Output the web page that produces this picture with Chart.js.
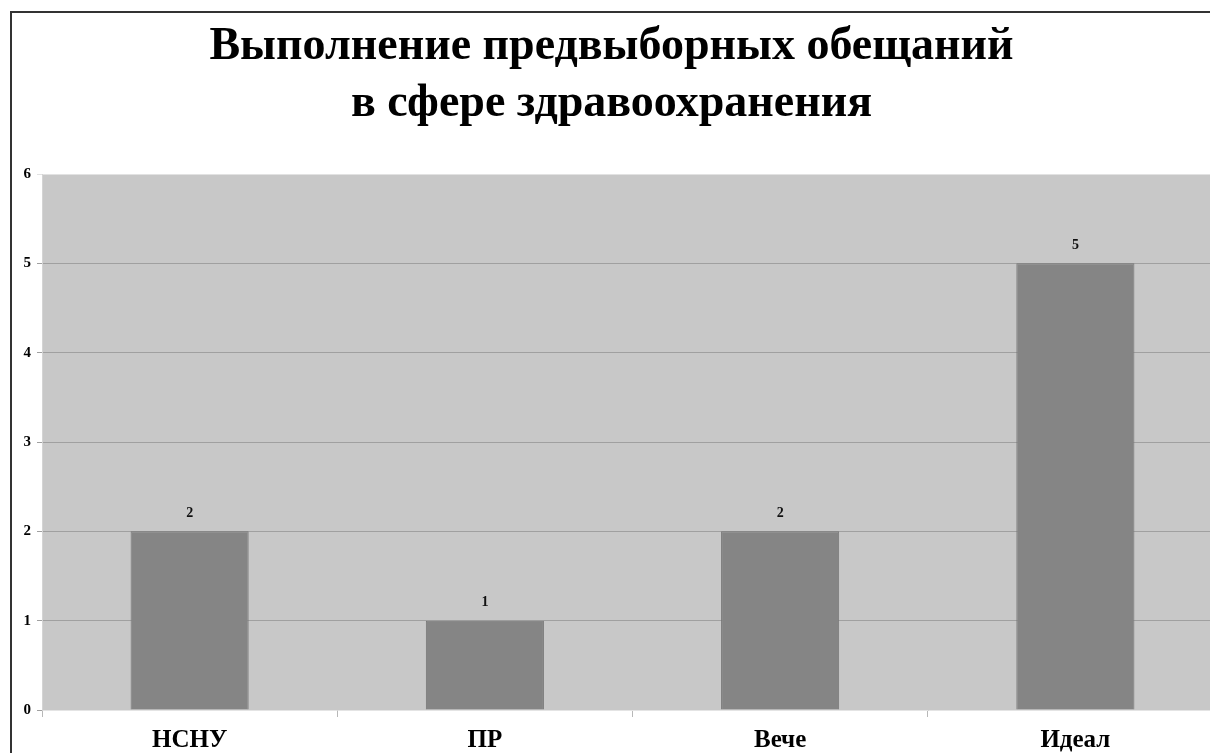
<!DOCTYPE html>
<html>
<head>
<meta charset="utf-8">
<script src="https://cdn.jsdelivr.net/npm/chart.js@4/dist/chart.umd.min.js"></script>
<style>
  body { margin: 0; background: #fff; overflow: hidden; width: 1210px; height: 753px; }
  #frame { position: absolute; left: 10px; top: 11px; width: 1400px; height: 900px;
           border-top: 2px solid #333; border-left: 2px solid #333; }
  #wrap { position: absolute; left: 0; top: 0; width: 1240px; height: 753px; }
</style>
</head>
<body>
<div id="frame"></div>
<div id="wrap"><canvas id="chart"></canvas></div>
<script>
const titleLines = ['Выполнение предвыборных обещаний', 'в сфере здравоохранения'];
const parties = ['НСНУ', 'ПР', 'Вече', 'Идеал'];
const promisesKept = [2, 1, 2, 5];
const yTicks = [0, 1, 2, 3, 4, 5, 6];

const serif = "'Liberation Serif', 'Times New Roman', serif";

// grey plot background
const plotBg = {
  id: 'plotBg',
  beforeDraw(chart) {
    const { ctx, chartArea: a } = chart;
    ctx.save();
    ctx.fillStyle = '#c8c8c8';
    ctx.fillRect(a.left, a.top, a.right - a.left, a.bottom - a.top);
    ctx.restore();
  }
};

// value labels above the bars
const valueLabels = {
  id: 'valueLabels',
  afterDatasetsDraw(chart) {
    const { ctx } = chart;
    const meta = chart.getDatasetMeta(0);
    ctx.save();
    ctx.font = 'bold 14px ' + serif;
    ctx.fillStyle = '#111';
    ctx.textAlign = 'center';
    ctx.textBaseline = 'middle';
    meta.data.forEach((bar, i) => {
      ctx.fillText(promisesKept[i], bar.x, bar.y - 18);
    });
    ctx.restore();
  }
};

const ctx = document.getElementById('chart').getContext('2d');
const chart = new Chart(ctx, {
  type: 'bar',
  data: {
    labels: parties,
    datasets: [{
      data: promisesKept,
      backgroundColor: '#858585',
      borderColor: '#767676',
      borderWidth: 1,
      categoryPercentage: 1,
      barPercentage: 0.4
    }]
  },
  options: {
    responsive: true,
    maintainAspectRatio: false,
    animation: false,
    layout: { padding: { left: 0, right: 17, top: 0, bottom: 0 } },
    scales: {
      x: {
        offset: true,
        grid: { offset: true, drawOnChartArea: false, drawTicks: true, tickLength: 7, color: '#b8b8b8' },
        border: { color: '#e4e4e4' },
        ticks: { color: '#000', padding: 9, font: { family: serif, size: 25, weight: 'bold' } },
        afterFit(scale) { scale.height = 43; }
      },
      y: {
        min: 0,
        max: 6,
        afterBuildTicks(scale) { scale.ticks = yTicks.map(v => ({ value: v })); },
        grid: {
          color: c => c.tick && c.tick.value === 6 ? '#e2e2e2' : '#a0a0a0',
          tickLength: 5
        },
        border: { color: '#d4d4d4' },
        ticks: { color: '#000', padding: 6, font: { family: serif, size: 15, weight: 'bold' } },
        afterFit(scale) { scale.width = 42; }
      }
    },
    plugins: {
      legend: { display: false },
      tooltip: { enabled: false },
      title: {
        display: true,
        text: titleLines,
        color: '#000',
        font: { family: serif, size: 46, weight: 'bold', lineHeight: 1.25 },
        padding: { top: 18, bottom: 41 }
      }
    }
  },
  plugins: [plotBg, valueLabels]
});
</script>
</body>
</html>
